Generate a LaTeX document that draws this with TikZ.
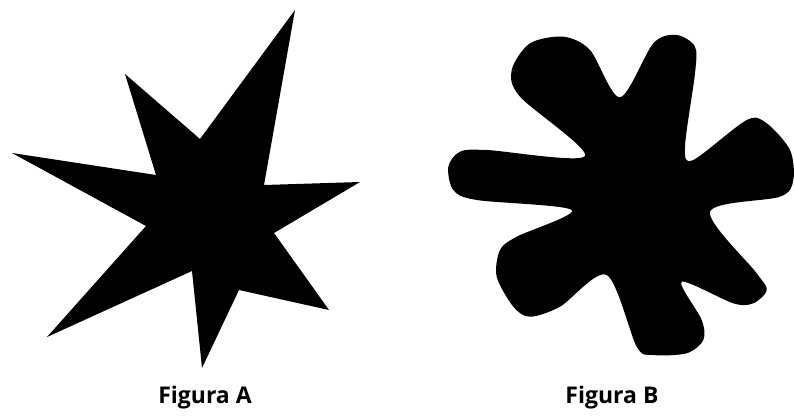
\documentclass[tikz,border=0pt]{standalone}
\usepackage{fontspec}
\setmainfont{Open Sans}
\begin{document}
\begin{tikzpicture}[x=1pt,y=-1pt,
  shapefill/.style={fill=black,draw=none},
  caption/.style={font=\bfseries\fontsize{23}{27}\selectfont,anchor=center,inner sep=0pt}]
\useasboundingbox (0,0) rectangle (794,415);
% Figure A: star
\fill[shapefill] (295,10) -- (200,139) -- (125,74) -- (156,175) -- (12,153) -- (146,226)
  -- (47,337) -- (192,271) -- (202,368) -- (239,290) -- (329,310) -- (274,233)
  -- (360,182) -- (264,185) -- cycle;
% Figure B: blob
\fill[shapefill] plot[smooth cycle, tension=0.5] coordinates {
 (585,156) (520,96.7) (511.7,70) (530,43.3) (563.3,36.7) (590,50) (620,97.3)
 (653.3,43.3) (676.7,35) (695,46.7) (695,73.3) (685,146.7) (693.3,160)
 (746.7,120) (766.7,123.3) (790,150) (793.3,180) (780,196.7) (710,211.7)
 (756.7,273.3) (766.7,290) (753.3,303.3) (733.3,303.3) (681.7,281.7)
 (701.7,320) (703.3,340) (686.7,353.3) (653.3,355) (636.7,346.7) (606.7,275)
 (560,306.7) (530,316.7) (513.3,306.7) (496.7,276.7) (500,250) (516.7,236.7)
 (571.7,210) (476.7,200) (453.3,190) (448.3,166.7) (460,151.7) (486.7,150)};
\node[caption] (capA) at (205,398) {Figura A};
\node[caption] (capB) at (612,398) {Figura B};
\end{tikzpicture}
\end{document}
